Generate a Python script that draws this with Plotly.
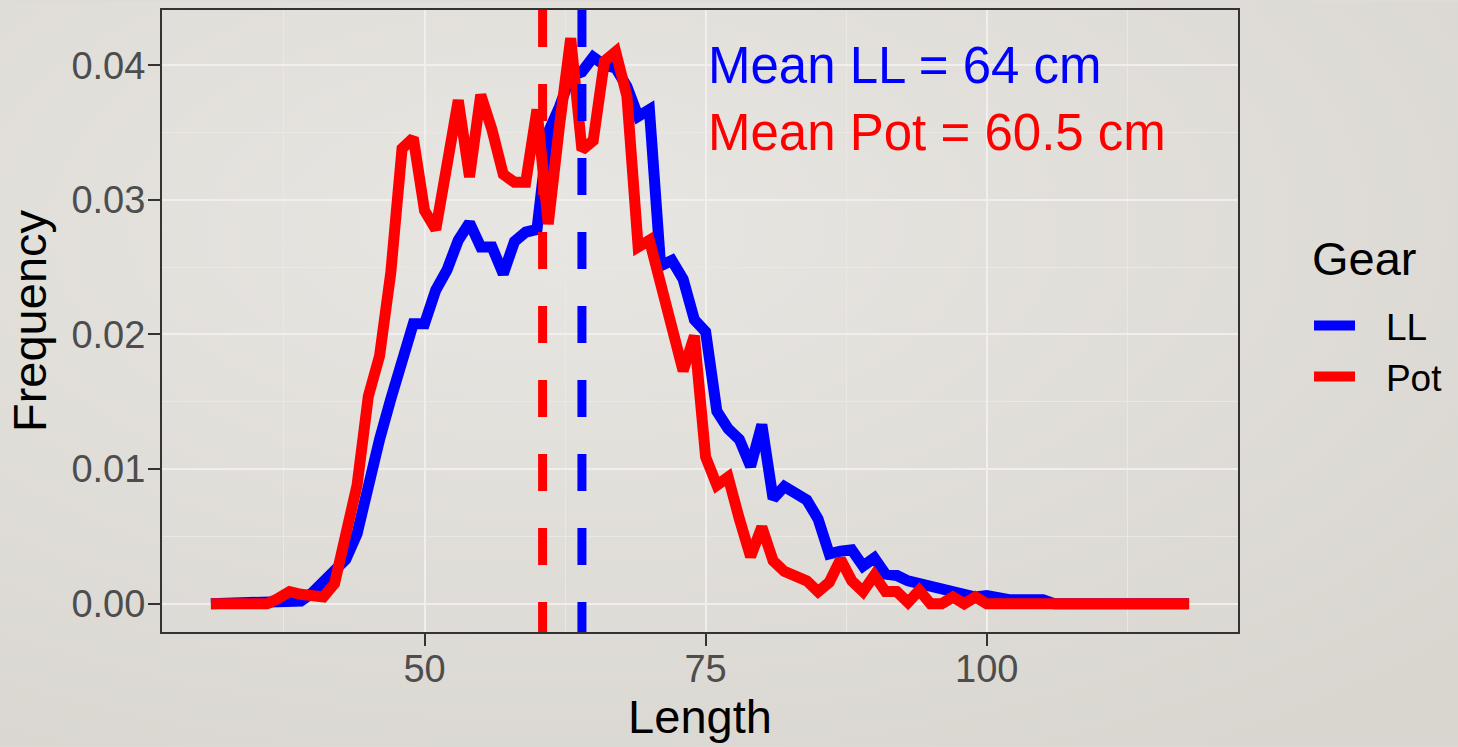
import base64
import plotly.graph_objects as go

# ---- data ----
length = list(range(31, 119))

freq_ll = [0, 0, 0, 0, 0, 0, 0, 0,                          # 31-38
           0.0002, 0.0008, 0.0017, 0.0025, 0.0033, 0.0052,   # 39-44
           0.0092, 0.0122, 0.0152, 0.0178, 0.0208, 0.0208,   # 45-50
           0.0233, 0.0248, 0.0270, 0.0283, 0.0265, 0.0265,   # 51-56
           0.0245, 0.0269, 0.0276, 0.0278, 0.0350, 0.0369,   # 57-62
           0.0392, 0.0395, 0.0406, 0.0400, 0.0398, 0.0384,   # 63-68
           0.0362, 0.0367, 0.0251, 0.0255, 0.0241, 0.0211,   # 69-74
           0.0202, 0.0143, 0.0130, 0.0122, 0.0102, 0.0133,   # 75-80
           0.0078, 0.0087, 0.0081, 0.0077, 0.0063, 0.0037,   # 81-86
           0.0039, 0.0040, 0.0028, 0.0034, 0.0022, 0.0021,   # 87-92
           0.0017, 0.0015, 0.0013, 0.0011, 0.0010, 0.0008,   # 93-98
           0.0005, 0.0006, 0.0004, 0.0003, 0.0003, 0.0003,   # 99-104
           0.0003, 0, 0, 0, 0, 0, 0, 0, 0, 0, 0, 0, 0, 0]    # 105-118

freq_pot = [0, 0, 0, 0, 0, 0,                                # 31-36
            0.0004, 0.0009, 0.0007, 0.0005, 0.0005, 0.0015,  # 37-42
            0.0050, 0.0088, 0.0154, 0.0184, 0.0246, 0.0338,  # 43-48
            0.0346, 0.0292, 0.0278, 0.0330, 0.0374, 0.0317,  # 49-54
            0.0378, 0.0352, 0.0319, 0.0313, 0.0313, 0.0367,  # 55-60
            0.0282, 0.0355, 0.0420, 0.0337, 0.0344, 0.0403,  # 61-66
            0.0410, 0.0377, 0.0265, 0.0270, 0.0236, 0.0205,  # 67-72
            0.0173, 0.0199, 0.0109, 0.0088, 0.0094, 0.0063,  # 73-78
            0.0035, 0.0057, 0.0032, 0.0024, 0.0020, 0.0017,  # 79-84
            0.0009, 0.0016, 0.0033, 0.0017, 0.0009, 0.0021,  # 85-90
            0.0009, 0.0009, 0.0001, 0.0010, 0, 0,            # 91-96
            0.0005, 0, 0.0005, 0,                            # 97-100
            0, 0, 0, 0, 0, 0, 0, 0, 0, 0, 0, 0, 0, 0, 0, 0, 0, 0]  # 101-118

gears = ["LL", "Pot"]
gear_colors = ["#0000FF", "#FF0000"]
mean_lengths = [64, 60.5]
annot_labels = ["Mean LL = 64 cm", "Mean Pot = 60.5 cm"]
annot_x = [75, 75]
annot_y = [0.040, 0.035]

x_ticks = [50, 75, 100]
y_ticks = [0.00, 0.01, 0.02, 0.03, 0.04]

FONT = "Liberation Sans, Arial, sans-serif"
LEGEND_GAP = "\u2002\u2009"  # spacing between legend key and label

# background gradient (slide background)
svg = ('<svg xmlns="http://www.w3.org/2000/svg" width="1458" height="747">'
       '<defs><radialGradient id="g" cx="0.38" cy="0.3" r="0.85">'
       '<stop offset="0" stop-color="#e8e6e2"/><stop offset="1" stop-color="#d9d6d0"/>'
       '</radialGradient></defs><rect width="1458" height="747" fill="url(#g)"/></svg>')
bg_src = "data:image/svg+xml;base64," + base64.b64encode(svg.encode()).decode()

fig = go.Figure()
series = [freq_ll, freq_pot]
for name, col, vals in zip(gears, gear_colors, series):
    fig.add_trace(go.Scatter(x=length, y=vals, mode="lines", name=LEGEND_GAP + name,
                             line=dict(color=col, width=11)))

for m, col in zip(mean_lengths, gear_colors):
    fig.add_shape(type="line", xref="x", yref="paper", x0=m, x1=m, y0=1, y1=0,
                  line=dict(color=col, width=9, dash="37px,37px"), layer="above")

for lab, xa, ya, col in zip(annot_labels, annot_x, annot_y, gear_colors):
    fig.add_annotation(x=xa, y=ya, text=lab, showarrow=False, xanchor="left",
                       yanchor="middle", font=dict(family=FONT, size=51, color=col))

# legend title as text
fig.add_annotation(x=1.0669, y=0.601, xref="paper", yref="paper", text="Gear",
                   showarrow=False, xanchor="left", yanchor="middle",
                   font=dict(family=FONT, size=47, color="#000000"))

xmin, xmax = min(length), max(length)
ymax = max(max(freq_ll), max(freq_pot))
xpad = 0.05 * (xmax - xmin)
ypad = 0.05 * ymax

grid_major = "#f0efed"
grid_minor = "#e9e8e5"

fig.update_layout(
    width=1458, height=747,
    margin=dict(l=162, r=220, t=8, b=115),
    paper_bgcolor="#dfdcd7",
    plot_bgcolor="rgba(0,0,0,0)",
    font=dict(family=FONT, color="#000000"),
    images=[dict(source=bg_src, xref="paper", yref="paper",
                 x=-162 / 1076, y=1 + 8 / 624, sizex=1458 / 1076, sizey=747 / 624,
                 xanchor="left", yanchor="top", sizing="stretch", layer="below")],
    xaxis=dict(range=[xmin - xpad, xmax + xpad], tickvals=x_ticks,
               showgrid=True, gridcolor=grid_major, gridwidth=2,
               minor=dict(tick0=0, dtick=12.5, showgrid=True, gridcolor=grid_minor, gridwidth=1),
               zeroline=False, showline=True, mirror=True, linecolor="#333333", linewidth=2,
               ticks="outside", ticklen=12, tickwidth=2, tickcolor="#333333",
               ticklabelstandoff=-10,
               tickfont=dict(size=38, color="#4D4D4D", family=FONT),
               title=dict(text="Length", font=dict(size=47, color="#000000", family=FONT), standoff=6)),
    yaxis=dict(range=[-ypad, ymax + ypad], tickvals=y_ticks, tickformat=".2f",
               showgrid=True, gridcolor=grid_major, gridwidth=2,
               minor=dict(tick0=0, dtick=0.005, showgrid=True, gridcolor=grid_minor, gridwidth=1),
               zeroline=False, showline=True, mirror=True, linecolor="#333333", linewidth=2,
               ticks="outside", ticklen=12, tickwidth=2, tickcolor="#333333",
               ticklabelstandoff=-5,
               tickfont=dict(size=38, color="#4D4D4D", family=FONT),
               title=dict(text="Frequency", font=dict(size=47, color="#000000", family=FONT), standoff=10)),
    legend=dict(font=dict(size=37, color="#000000", family=FONT),
                x=1.066, xanchor="left", y=0.542, yanchor="top", itemwidth=41,
                bgcolor="rgba(0,0,0,0)", borderwidth=0, tracegroupgap=0),
)

fig.write_html("out.html")
